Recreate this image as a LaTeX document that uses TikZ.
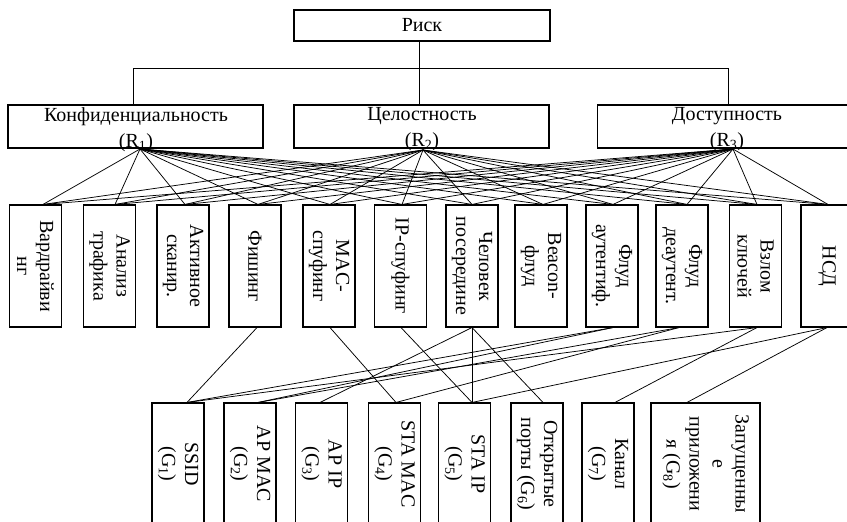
\documentclass[tikz,border=0pt]{standalone}
\usepackage{fontspec}
\setmainfont{Liberation Serif}
\begin{document}
\begin{tikzpicture}[x=1pt,y=-1pt,
  font=\fontsize{20}{23}\selectfont,
  box/.style={draw, line width=1.1pt, inner sep=0pt},
  lvtwo/.style={box, minimum width=255pt, minimum height=43pt},
  lvthree/.style={box, minimum width=52pt, minimum height=122pt},
  lvfour/.style={box, minimum width=52pt, minimum height=122pt},
  toplabel/.style={anchor=north, align=center, inner sep=0pt, font=\fontsize{20}{26}\selectfont},
  vtext/.style={rotate=-90, align=center, inner sep=0pt},
  link/.style={line width=0.75pt}]
\clip (0,0) rectangle (847,522);
% top
\node[box, minimum width=256pt, minimum height=31pt] (risk) at (422,25.5) {Риск};
% level 2
\node[lvtwo] (conf) at (135.5,126.5) {};
\node[lvtwo] (integ) at (421.5,126.5) {};
\node[lvtwo] (avail) at (725,126.5) {};
\node[toplabel] (conft) at (136,107) {Конфиденциальность\\(R\textsubscript{1})};
\node[toplabel] (integt) at (422,107) {Целостность\\(R\textsubscript{2})};
\node[toplabel] (availt) at (727,107) {Доступность\\(R\textsubscript{3})};
% tree
\coordinate (hub) at (419,68);
\coordinate (cx) at (133,68);
\coordinate (dx) at (728,68);
\draw[link] (risk.south -| hub) -- (integ.north -| hub);
\draw[link] (conf.north -| cx) -- (cx) -- (dx) -- (avail.north -| dx);
% level 3
\node[lvthree] (v1) at (35.5,266) {};
\node[lvthree] (v2) at (109.5,266) {};
\node[lvthree] (v3) at (183,266) {};
\node[lvthree] (v4) at (255,266) {};
\node[lvthree] (v5) at (329,266) {};
\node[lvthree] (v6) at (400.5,266) {};
\node[lvthree] (v7) at (472,266) {};
\node[lvthree] (v8) at (541,266) {};
\node[lvthree] (v9) at (612,266) {};
\node[lvthree] (v10) at (682,266) {};
\node[lvthree] (v11) at (755.5,266) {};
\node[lvthree] (v12) at (827,266) {};
\node[vtext] (v1t) at (v1) {Вардрайви\\нг};
\node[vtext] (v2t) at (v2) {Анализ\\трафика};
\node[vtext] (v3t) at (v3) {Активное\\сканир.};
\node[vtext] (v4t) at (v4) {Фишинг};
\node[vtext] (v5t) at (v5) {MAC-\\спуфинг};
\node[vtext] (v6t) at (v6) {IP-спуфинг};
\node[vtext] (v7t) at (v7) {Человек\\посередине};
\node[vtext] (v8t) at (v8) {Beacon-\\флуд};
\node[vtext] (v9t) at (v9) {Флуд\\аутентиф.};
\node[vtext] (v10t) at (v10) {Флуд\\деаутент.};
\node[vtext] (v11t) at (v11) {Взлом\\ключей};
\node[vtext] (v12t) at (v12) {НСД};
% level 4
\node[lvfour] (g1) at (178,464) {};
\node[lvfour] (g2) at (250,464) {};
\node[lvfour] (g3) at (321.5,464) {};
\node[lvfour] (g4) at (394.5,464) {};
\node[lvfour] (g5) at (464.5,464) {};
\node[lvfour] (g6) at (537,464) {};
\node[lvfour] (g7) at (608,464) {};
\node[lvfour, minimum width=109pt] (g8) at (705.5,464) {};
\node[vtext] (g1t) at (g1) {SSID\\(G\textsubscript{1})};
\node[vtext] (g2t) at (g2) {AP MAC\\(G\textsubscript{2})};
\node[vtext] (g3t) at (g3) {AP IP\\(G\textsubscript{3})};
\node[vtext] (g4t) at (g4) {STA MAC\\(G\textsubscript{4})};
\node[vtext] (g5t) at (g5) {STA IP\\(G\textsubscript{5})};
\node[vtext] (g6t) at (g6) {Открытые\\порты (G\textsubscript{6})};
\node[vtext] (g7t) at (g7) {Канал\\(G\textsubscript{7})};
\node[vtext] (g8t) at (g8) {Запущенны\\е\\приложени\\я (G\textsubscript{8})};
% connection points
\coordinate (R1) at (140,149);
\coordinate (R2) at (423,150);
\coordinate (R3) at (733,149);
\foreach \i/\dx in {1/7.5,2/5.5,3/2,4/3,5/1,6/1.5,7/0,8/2,9/1,10/5,11/1.5,12/1}
  \coordinate (t\i) at ([xshift=\dx pt]v\i.north);
\foreach \i/\dx in {4/2,5/1,6/0.5,7/0,9/1,10/-3,11/1.5,12/0}
  \coordinate (b\i) at ([xshift=\dx pt]v\i.south);
\foreach \i/\dx in {1/9,2/8,3/-1.5,4/1.5,5/7.5,6/6,7/7,8/-18.5}
  \coordinate (h\i) at ([xshift=\dx pt]g\i.north);
% links level 2 -> level 3
\foreach \r in {R1,R2,R3}
  \foreach \i in {1,...,12}
    \draw[link] (\r) -- (t\i);
% links level 3 -> level 4
\foreach \a/\b in {4/1,5/4,6/5,7/3,7/5,7/6,9/1,9/2,10/2,10/4,11/1,11/7,12/5,12/8}
  \draw[link] (b\a) -- (h\b);
\end{tikzpicture}
\end{document}
